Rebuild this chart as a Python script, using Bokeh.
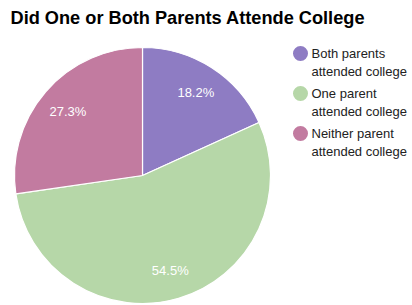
import numpy as np
from bokeh.plotting import figure
from bokeh.models import Range1d
from bokeh.core.properties import value
from bokeh.embed import file_html
from bokeh.resources import INLINE

title = "Did One or Both Parents Attende College"
categories = ["Both parents attended college", "One parent attended college", "Neither parent attended college"]
legend_line1 = ["Both parents", "One parent", "Neither parent"]
legend_line2 = ["attended college", "attended college", "attended college"]
values = [18.2, 54.5, 27.3]
colors = ["#8e7cc3", "#b6d7a8", "#c27ba0"]

W, H = 412, 305
p = figure(width=W, height=H, output_backend="svg", toolbar_location=None,
           x_range=Range1d(0, W), y_range=Range1d(-H, 0),
           min_border=0)
p.axis.visible = False
p.grid.visible = False
p.outline_line_color = None
p.background_fill_color = "white"

cx, cy, r = 142, -175, 128
v = np.array(values, dtype=float)
frac = v / v.sum()
cum = np.concatenate([[0], np.cumsum(frac)])
start = np.pi / 2 - 2 * np.pi * cum[:-1]
end = np.pi / 2 - 2 * np.pi * cum[1:]
p.wedge(x=cx, y=cy, radius=r, start_angle=start, end_angle=end, direction="clock",
        fill_color=colors, line_color="white", line_width=1.2)

mid = (start + end) / 2
lr = 0.77 * r
p.text(x=cx + lr * np.cos(mid), y=cy + lr * np.sin(mid),
       text=[f"{x:.1f}%" for x in values], text_color="white",
       text_font=value("Liberation Sans"), text_font_size="13px",
       text_align="center", text_baseline="middle")

p.text(x=[10], y=[-17], text=[title], text_font=value("Liberation Sans"),
       text_font_style="bold", text_font_size="18.2px", text_color="#000000",
       text_baseline="middle")

ly = -np.array([53, 93, 133])
p.scatter(x=[300] * 3, y=ly, size=15, fill_color=colors, line_color=None)
p.text(x=[311] * 3, y=ly, text=legend_line1, text_font=value("Liberation Sans"),
       text_font_size="13px", text_color="#222222", text_baseline="middle")
p.text(x=[311] * 3, y=ly - 18, text=legend_line2, text_font=value("Liberation Sans"),
       text_font_size="13px", text_color="#222222", text_baseline="middle")

open("out.html", "w").write(file_html(p, INLINE))
